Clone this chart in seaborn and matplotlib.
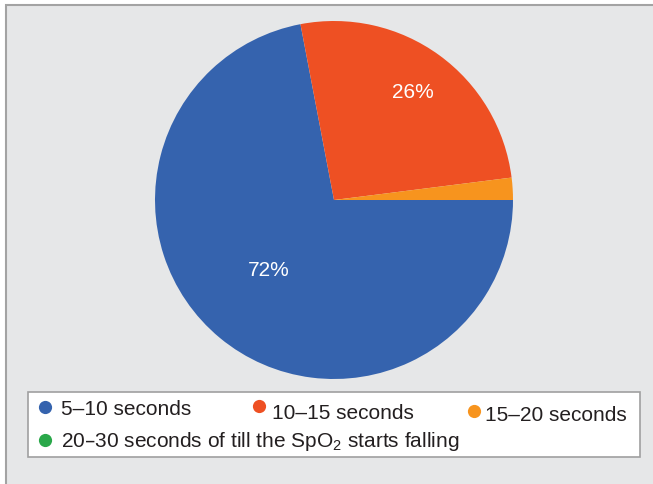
import matplotlib
matplotlib.use("Agg")
import matplotlib.pyplot as plt
from matplotlib.patches import Rectangle
import numpy as np
import seaborn as sns

# Time groups and their share of cases (%)
categories = ["5–10 seconds", "10–15 seconds", "15–20 seconds",
              "20–30 seconds of till the SpO$_\\mathregular{2}$ starts falling"]
shares = [72, 26, 2, 0]
value_labels = ["72%", "26%", "", ""]
colors = ["#3563ae", "#ee5023", "#f7941e", "#2aa84a"]

sns.set_theme(style="white")
plt.rcParams["font.family"] = ["Liberation Sans", "DejaVu Sans"]

W, H = 653, 485
fig = plt.figure(figsize=(W / 100, H / 100), dpi=100, facecolor="white")

# Grey panel with a thin border on its top and left edges
fig.add_artist(Rectangle((6 / W, -0.1), 1.2, (H - 6) / H + 0.1,
                         transform=fig.transFigure, facecolor="#e6e7e8",
                         edgecolor="#a3a3a3", linewidth=1.5, zorder=0))

# Pie chart
cx, cy, r = 334, 201, 179
ax = fig.add_axes([(cx - r) / W, (H - cy - r) / H, 2 * r / W, 2 * r / H])
palette = sns.color_palette(colors)
wedges, _ = ax.pie(shares, colors=palette, startangle=0, counterclock=False,
                   radius=1.0, wedgeprops=dict(linewidth=0))
ax.set_xlim(-1, 1)
ax.set_ylim(-1, 1)
ax.set_aspect("equal")
ax.axis("off")

# Percentage labels inside the two large wedges
label_radius = [0.53, 0.75, 0.7, 0.7]
label_turn = [-3.5, 0, 0, 0]
for w, lab, rr, dt in zip(wedges, value_labels, label_radius, label_turn):
    if not lab:
        continue
    mid = np.deg2rad((w.theta1 + w.theta2) / 2 + dt)
    ax.text(rr * np.cos(mid), rr * np.sin(mid), lab, color="white",
            fontsize=15, ha="center", va="center")

# Legend box drawn on a pixel-based overlay
lax = fig.add_axes([0, 0, 1, 1], facecolor="none")
lax.set_xlim(0, W)
lax.set_ylim(H, 0)
lax.axis("off")
lax.add_patch(Rectangle((28, 393), 612, 65, facecolor="white",
                        edgecolor="#a0a0a0", linewidth=1.2))

dots = [(45, 408), (259, 407), (474, 412), (45, 441)]
text_pos = [(61, 415), (272, 419), (485, 421), (61, 447)]
for (dx, dy), (tx, ty), col, cat in zip(dots, text_pos, palette, categories):
    lax.plot([dx], [dy], marker="o", markersize=9.5, color=col,
             markeredgewidth=0, linestyle="none")
    lax.text(tx, ty, cat, fontsize=15, color="#231f20", ha="left",
             va="baseline")

fig.savefig("out.png", dpi=100, facecolor="white")
